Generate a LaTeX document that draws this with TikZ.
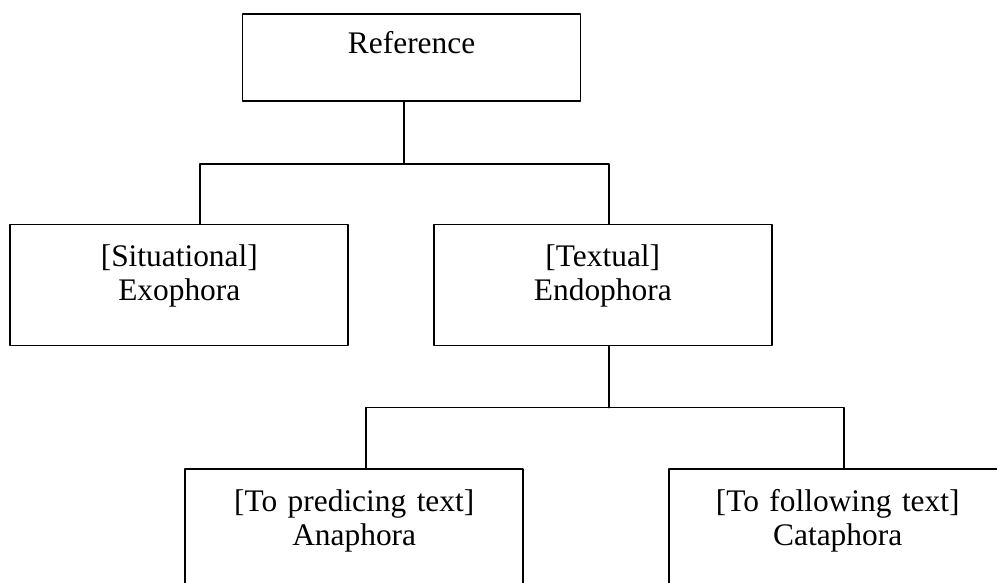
\documentclass[tikz,border=0pt]{standalone}
\usepackage{fontspec}
\setmainfont{Liberation Serif}
\usepackage{pgf,tikz}
\usetikzlibrary{positioning}

\begin{document}
\begin{tikzpicture}[line cap=round,line join=round,x=0.5pt,y=-0.5pt,
  box/.style={draw,line width=0.85pt,inner sep=0pt,text width=169pt,align=center,
    font=\fontsize{15.7}{17}\selectfont,text height=21.1pt,text depth=39.4pt},
  topbox/.style={box,text height=19.65pt,text depth=24pt},
  link/.style={line width=0.7pt}]
\clip(0,0) rectangle (997,583);
\node[topbox] (ref) at (411.6,57.7) {Reference};
\node[box] (exo) at (179.3,285.1) {[Situational]\\Exophora};
\node[box] (endo) at (602.8,285.1) {[Textual]\\Endophora};
\node[box] (ana) at (354.2,529.8) {[To predicing text]\\Anaphora};
\node[box] (cata) at (837.7,529.8) {[To following text]\\Cataphora};
\draw[link] ([xshift=-3.8pt]ref.south) -- ++(0,62) coordinate (fork1);
\draw[link] ([xshift=10.35pt]exo.north) |- (fork1) -| ([xshift=3.1pt]endo.north);
\draw[link] ([xshift=3.1pt]endo.south) -- ++(0,61.3) coordinate (fork2);
\draw[link] ([xshift=5.9pt]ana.north) |- (fork2) -| ([xshift=3.15pt]cata.north);
\end{tikzpicture}
\end{document}
